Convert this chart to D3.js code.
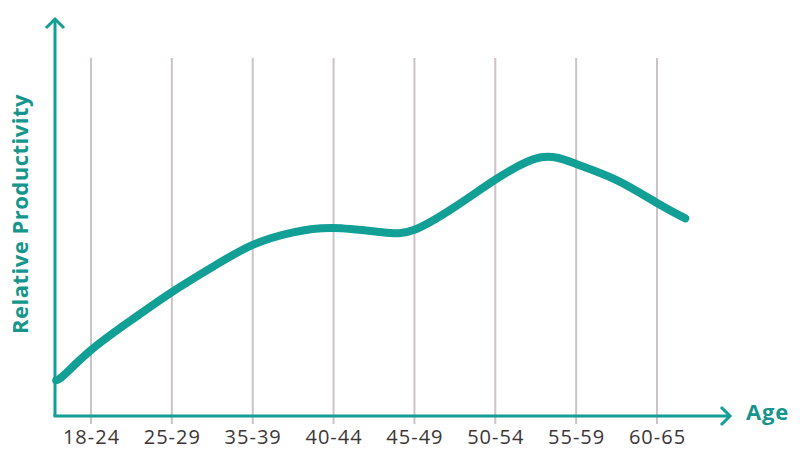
<!DOCTYPE html>
<html><head><meta charset="utf-8">
<script src="https://cdn.jsdelivr.net/npm/d3@7"></script>
<style>body{margin:0;background:#fff}</style>
</head><body>
<script>
const categories = ["18-24","25-29","35-39","40-44","45-49","50-54","55-59","60-65"];
const curveX = [-0.43,-0.34,0,0.5,1,1.5,2,2.5,3,3.6,4,4.5,5,5.55,6,6.5,7,7.35];
const curveY = [10.0,11.3,18.4,26.8,34.6,41.6,47.8,51.3,52.5,51.3,52.0,58.4,66.0,72.2,70.4,65.9,59.5,55.2];
const xTitle = "Age";
const yTitle = "Relative Productivity";

const W = 800, H = 457;
const teal = "#12a096", tealText = "#15958b";
const font = "'Open Sans', Lato, sans-serif";
const svg = d3.select("body").append("svg").attr("width", W).attr("height", H);

const x = d3.scaleLinear().domain([0, 7]).range([91, 657]);
const y = d3.scaleLinear().domain([0, 100]).range([416, 58]);
const x0 = 55, y0 = 416;

// gridlines
svg.append("g").selectAll("line").data(categories).join("line")
  .attr("x1", (d,i)=>x(i)).attr("x2", (d,i)=>x(i))
  .attr("y1", y(100)).attr("y2", y0 + 8)
  .attr("stroke", "#cbc3c7").attr("stroke-width", 2);

// labels
svg.append("g").selectAll("text").data(categories).join("text")
  .attr("x", (d,i)=>x(i) + 0.5).attr("y", 444)
  .attr("text-anchor", "middle")
  .attr("font-family", font)
  .attr("font-size", 20).attr("letter-spacing", 1).attr("fill", "#3d3636")
  .text(d=>d);

// axes
svg.append("line").attr("x1", x0).attr("x2", x0).attr("y1", y0).attr("y2", 19)
  .attr("stroke", teal).attr("stroke-width", 3);
svg.append("line").attr("x1", x0 - 1.5).attr("x2", 729).attr("y1", y0).attr("y2", y0)
  .attr("stroke", teal).attr("stroke-width", 3);
svg.append("path").attr("d", `M${x0-9},${28} L${x0},${19} L${x0+9},${28}`)
  .attr("fill", "none").attr("stroke", teal).attr("stroke-width", 3);
svg.append("path").attr("d", `M${721},${y0-9} L${730},${y0} L${721},${y0+9}`)
  .attr("fill", "none").attr("stroke", teal).attr("stroke-width", 3);

// curve
const pts = curveX.map((v,i)=>[v, curveY[i]]);
svg.append("path").datum(pts)
  .attr("d", d3.line().x(d=>x(d[0])).y(d=>y(d[1])).curve(d3.curveNatural))
  .attr("fill", "none").attr("stroke", teal).attr("stroke-width", 8)
  .attr("stroke-linecap", "round").attr("stroke-linejoin", "round");

// titles
svg.append("text").attr("x", 746).attr("y", 420)
  .attr("font-family", font).attr("font-weight", "bold")
  .attr("font-size", 22).attr("letter-spacing", 0.8).attr("fill", tealText).text(xTitle);
svg.append("text").attr("transform", "translate(28,214) rotate(-90)")
  .attr("text-anchor", "middle")
  .attr("font-family", font).attr("font-weight", "bold")
  .attr("font-size", 22).attr("letter-spacing", 0.5).attr("fill", tealText).text(yTitle);
</script>
</body></html>
